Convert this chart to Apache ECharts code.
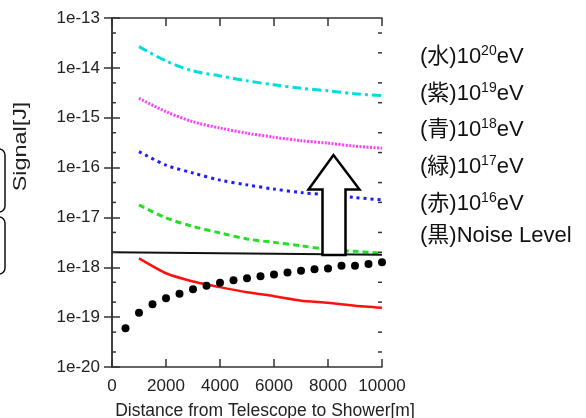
<!DOCTYPE html>
<html>
<head>
<meta charset="utf-8">
<script src="https://cdn.jsdelivr.net/npm/echarts@6/dist/echarts.min.js"></script>
<style>
html,body{margin:0;padding:0;background:#fff;}
#chart{width:586px;height:418px;}
</style>
</head>
<body>
<div id="chart"></div>
<script>
// ---- data ----
const distances = [1000, 2000, 3000, 4000, 5000, 6000, 7000, 8000, 9000, 10000];
const signal1e20 = [2.66e-14, 1.38e-14, 8.7e-15, 6.9e-15, 5.5e-15, 4.57e-15, 3.89e-15, 3.47e-15, 3.02e-15, 2.77e-15];
const signal1e19 = [2.45e-15, 1.32e-15, 8.3e-16, 6.2e-16, 4.9e-16, 4.07e-16, 3.47e-16, 3.09e-16, 2.69e-16, 2.45e-16];
const signal1e18 = [2.09e-16, 1.12e-16, 7.8e-17, 5.6e-17, 4.5e-17, 3.7e-17, 3.16e-17, 2.82e-17, 2.51e-17, 2.24e-17];
const signal1e17 = [1.78e-17, 9.8e-18, 6.6e-18, 4.9e-18, 3.7e-18, 3.16e-18, 2.69e-18, 2.29e-18, 2.09e-18, 1.91e-18];
const signal1e16 = [1.51e-18, 7.6e-19, 5.2e-19, 4.0e-19, 3.16e-19, 2.63e-19, 2.14e-19, 1.95e-19, 1.70e-19, 1.55e-19];
const noiseLineX = [0, 10000];
const noiseLineY = [2.0e-18, 1.78e-18];
const dotDistances = [500, 1000, 1500, 2000, 2500, 3000, 3500, 4000, 4500, 5000, 5500, 6000, 6500, 7000, 7500, 8000, 8500, 9000, 9500, 10000];
const dotValues = [6.0e-20, 1.23e-19, 1.82e-19, 2.40e-19, 2.95e-19, 3.63e-19, 4.27e-19, 4.9e-19, 5.5e-19, 6.0e-19, 6.6e-19, 7.2e-19, 7.9e-19, 8.5e-19, 9.1e-19, 9.5e-19, 1.07e-18, 1.07e-18, 1.17e-18, 1.26e-18];
const xTickLabels = ['0', '2000', '4000', '6000', '8000', '10000'];
const yTickLabels = ['1e-20', '1e-19', '1e-18', '1e-17', '1e-16', '1e-15', '1e-14', '1e-13'];
const minorTickValues = [2e-20, 5e-20, 2e-19, 5e-19, 2e-18, 5e-18, 2e-17, 5e-17, 2e-16, 5e-16, 2e-15, 5e-15, 2e-14, 5e-14];
const legendNames = ['(水)10', '(紫)10', '(青)10', '(緑)10', '(赤)10', '(黒)Noise Level'];
const legendExponents = ['20', '19', '18', '17', '16', ''];
const xTitle = 'Distance from Telescope to Shower[m]';
const yTitle = 'Signal[J]';

// ---- helpers ----
const zip = (xs, ys) => xs.map((x, i) => [x, ys[i]]);
const axisColor = '#333';
const latin = '"Liberation Sans", Arial, sans-serif';
const cjk = '"Liberation Sans", "Noto Sans CJK JP", sans-serif';

const chart = echarts.init(document.getElementById('chart'), null, {renderer: 'canvas'});

const baseY = {
  type: 'log', logBase: 10, min: 1e-20, max: 1e-13, interval: 1, splitNumber: 7,
  splitLine: {show: false},
  axisLine: {show: true, lineStyle: {color: axisColor, width: 1.5}},
  axisTick: {show: true, inside: true, length: 8, lineStyle: {color: axisColor, width: 1.5}},
  minorTick: {show: false}
};
const baseX = {
  type: 'value', min: 0, max: 10000, interval: 2000,
  splitLine: {show: false},
  axisLine: {show: true, onZero: false, lineStyle: {color: axisColor, width: 1.5}},
  axisTick: {show: true, inside: true, length: 8, lineStyle: {color: axisColor, width: 1.5}}
};

const option = {
  animation: false,
  backgroundColor: '#fff',
  grid: {left: 112, right: 204, top: 18, bottom: 51, containLabel: false, outerBoundsMode: 'none'},
  xAxis: [
    Object.assign({}, baseX, {
      position: 'bottom',
      name: xTitle, nameLocation: 'middle', nameGap: 35,
      nameTextStyle: {fontFamily: latin, fontSize: 17.5, color: '#222', padding: [0, 0, 0, 36]},
      axisLabel: {
        margin: 11, fontFamily: latin, fontSize: 17, color: '#222',
        formatter: v => xTickLabels[Math.round(v / 2000)]
      }
    }),
    Object.assign({}, baseX, {position: 'top', axisLabel: {show: false}})
  ],
  yAxis: [
    Object.assign({}, baseY, {
      position: 'left',
      axisLabel: {
        margin: 12, fontFamily: latin, fontSize: 17, color: '#222',
        formatter: v => yTickLabels[Math.round(Math.log10(v)) + 20]
      }
    }),
    Object.assign({}, baseY, {position: 'right', axisLabel: {show: false}})
  ],
  graphic: [],
  series: [
    {
      name: '10^20 eV', type: 'line', data: zip(distances, signal1e20), smooth: 0.3,
      showSymbol: false, lineStyle: {color: '#00dede', width: 3, type: [9, 4, 3, 4]}, z: 3
    },
    {
      name: '10^19 eV', type: 'line', data: zip(distances, signal1e19), smooth: 0.3,
      showSymbol: false, lineStyle: {color: '#ff3cff', width: 3, type: [2, 1.5]}, z: 3
    },
    {
      name: '10^18 eV', type: 'line', data: zip(distances, signal1e18), smooth: 0.3,
      showSymbol: false, lineStyle: {color: '#1c1cff', width: 3, type: [3, 4]}, z: 3
    },
    {
      name: '10^17 eV', type: 'line', data: zip(distances, signal1e17), smooth: 0.3,
      showSymbol: false, lineStyle: {color: '#22e022', width: 3, type: [6, 4]}, z: 3
    },
    {
      name: '10^16 eV', type: 'line', data: zip(distances, signal1e16), smooth: 0.2,
      showSymbol: false, lineStyle: {color: '#ff1010', width: 2.5}, z: 3
    },
    {
      name: 'Noise Level', type: 'line', data: zip(noiseLineX, noiseLineY),
      showSymbol: false, lineStyle: {color: '#111', width: 2}, z: 4
    },
    {
      name: 'Noise points', type: 'scatter', data: zip(dotDistances, dotValues),
      symbol: 'circle', symbolSize: 8, itemStyle: {color: '#000', opacity: 1}, z: 5, clip: false
    },
    {
      name: 'minor ticks', type: 'custom', silent: true, clip: false, z: 6,
      data: minorTickValues.map(v => [0, v]),
      encode: {x: 0, y: 1},
      renderItem: (params, api) => {
        const v = api.value(1);
        const l = api.coord([0, v]);
        const r = api.coord([10000, v]);
        const st = {stroke: axisColor, lineWidth: 1.5};
        return {type: 'group', children: [
          {type: 'line', shape: {x1: l[0], y1: l[1], x2: l[0] + 4, y2: l[1]}, style: st},
          {type: 'line', shape: {x1: r[0] - 4, y1: r[1], x2: r[0], y2: r[1]}, style: st}
        ]};
      }
    }
  ]
};

// legend text (annotation on the right)
const legendY = [55, 92, 128, 165, 202, 239];
legendNames.forEach((name, i) => {
  const exp = legendExponents[i];
  const txt = exp ? '{a|' + name + '}{s|' + exp + '}{a|eV}' : '{a|' + name + '}';
  option.graphic.push({
    type: 'text', left: 420, top: legendY[i] - 14, z: 10,
    style: {
      text: txt, fill: '#111',
      rich: {
        a: {fontFamily: cjk, fontSize: 22, lineHeight: 27, fill: '#111', verticalAlign: 'bottom'},
        s: {fontFamily: latin, fontSize: 14, lineHeight: 27, fill: '#111', verticalAlign: 'top', padding: [3, 0, 0, 0]}
      }
    }
  });
});

// y-axis title
option.graphic.push({
  type: 'text', x: 21, y: 146.5, rotation: Math.PI / 2, scaleX: 1.3, z: 10,
  style: {text: yTitle, fontFamily: latin, fontSize: 18, fill: '#222', align: 'center', verticalAlign: 'middle'}
});

// hollow up arrow annotation
option.graphic.push({
  type: 'polygon', z: 8,
  shape: {points: [[333.5, 155], [308.5, 189.5], [322.5, 189.5], [322.5, 255], [345.5, 255], [345.5, 189.5], [359.5, 189.5]]},
  style: {fill: '#fff', stroke: '#000', lineWidth: 2.5, lineJoin: 'miter'}
});

// cut-off rounded boxes at the left edge
option.graphic.push({
  type: 'rect', z: 8, shape: {x: -20, y: 149, width: 25, height: 63, r: 6},
  style: {fill: 'none', stroke: '#111', lineWidth: 1.5}
});
option.graphic.push({
  type: 'rect', z: 8, shape: {x: -20, y: 217, width: 25, height: 57, r: 6},
  style: {fill: 'none', stroke: '#111', lineWidth: 1.5}
});

chart.setOption(option);
</script>
</body>
</html>
